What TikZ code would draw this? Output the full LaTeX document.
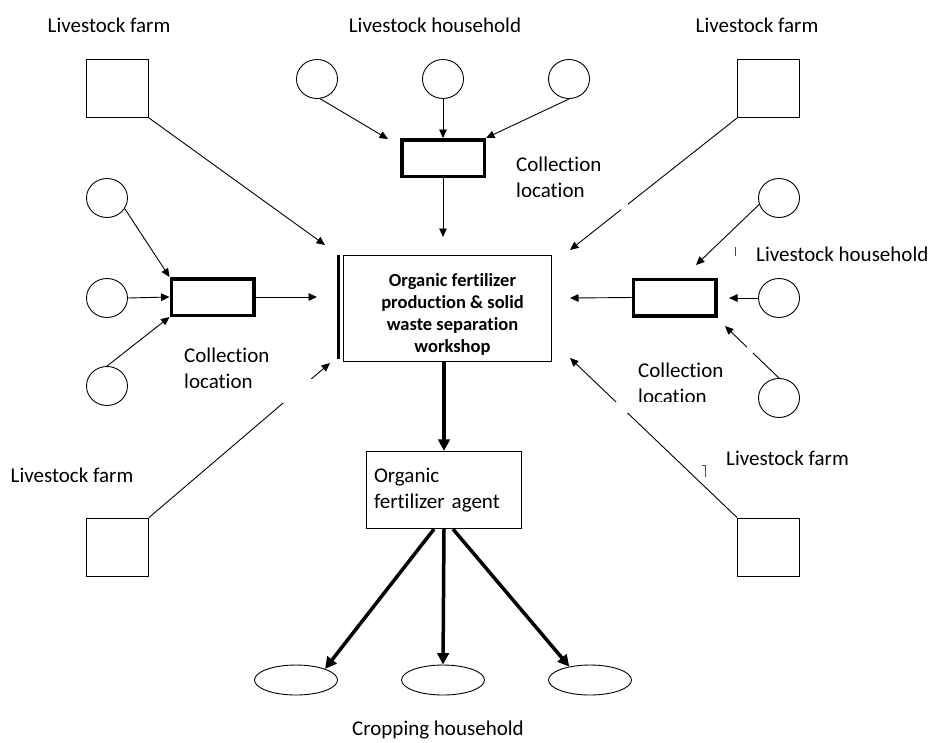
\documentclass[tikz,border=0pt]{standalone}
\usepackage{fontspec}
\setmainfont{Carlito}[Ligatures=NoCommon]
\usetikzlibrary{arrows.meta,shapes.geometric}

\begin{document}
\begin{tikzpicture}[x=1pt,y=-1pt,
  every node/.style={inner sep=0pt},
  lbl/.style={font=\fontsize{21}{25.6}\selectfont, align=left},
  farm/.style={draw, line width=0.9pt, minimum width=62pt, minimum height=58pt},
  hh/.style={draw, ellipse, line width=0.9pt, minimum width=41pt, minimum height=39pt},
  crop/.style={draw, ellipse, line width=0.9pt, minimum width=83pt, minimum height=30pt},
  collect/.style={draw, line width=3.5pt, minimum width=82.5pt, minimum height=36.5pt},
  workshop/.style={draw, line width=1.2pt, minimum width=208pt, minimum height=106pt},
  agentbox/.style={draw, line width=1.2pt, text width=140pt, inner xsep=7.5pt,
    minimum height=77pt, align=left, font=\fontsize{21}{25.6}\selectfont},
  feed/.style={line width=0.9pt, -{Triangle[length=8.5pt,width=7.5pt]}},
  supply/.style={line width=3.5pt, -{Triangle[length=11.5pt,width=11.5pt]}},
  mask/.style={fill=white},
  tick/.style={line width=0.8pt, black!70}
]
\useasboundingbox (0,0) rectangle (933,742);

% ---- livestock farms (squares) ----
\node[farm] (farmTL) at (117.5,88.5) {};
\node[farm] (farmTR) at (768.5,88.5) {};
\node[farm] (farmBL) at (117.5,547) {};
\node[farm] (farmBR) at (768.5,547) {};

% ---- livestock households (circles) ----
\node[hh] (hT1) at (317,79) {};
\node[hh] (hT2) at (443,79) {};
\node[hh] (hT3) at (569,79) {};
\node[hh] (hL1) at (107,198) {};
\node[hh] (hL2) at (107,298) {};
\node[hh] (hL3) at (107,386) {};
\node[hh] (hR1) at (779,198) {};
\node[hh] (hR2) at (779,298) {};
\node[hh] (hR3) at (779,398) {};

% ---- collection locations ----
\node[collect] (colTop)   at (443,158) {};
\node[collect] (colLeft)  at (212.5,297) {};
\node[collect] (colRight) at (674.5,297.5) {};

% ---- workshop ----
\node[workshop] (main) at (447.5,308.5) {};
\draw[line width=3pt] (338.5,255) -- (338.5,359.3);
\node[font=\bfseries\fontsize{18.5}{21.8}\selectfont, align=center] (mainlbl)
  at (452.5,314.3) {Organic fertilizer\\production \& solid\\waste separation\\workshop};

% ---- agent ----
\node[agentbox] (agent) at (444,490) {Organic\\fertilizer agent};

% ---- cropping households ----
\node[crop] (cropL) at (296,680) {};
\node[crop] (cropM) at (443,680) {};
\node[crop] (cropR) at (590,680) {};

% ---- arrow end points in open space ----
\coordinate (inTL)  at (325,245);
\coordinate (inTR)  at (570,250);
\coordinate (inBL)  at (330,363);
\coordinate (inBR)  at (570,358);
\coordinate (inTop) at (443,237);
\coordinate (inL)   at (317,297);
\coordinate (inR)   at (570,298);
\coordinate (toColT) at (388,139);
\coordinate (toColR1) at (696,265);
\coordinate (toColR2) at (729,298);
\coordinate (toColR3) at (725,326);

% ---- flows into the workshop ----
\draw[feed] (farmTL.south east) -- (inTL);
\draw[feed] (farmTR.south west) -- (inTR);
\draw[feed] (farmBL.north east) -- (inBL);
\draw[feed] (farmBR.north west) -- (inBR);
\draw[feed] (colTop.south) -- (inTop);
\draw[feed] (colLeft.east) -- (inL);
\draw[feed] (colRight.west) -- (inR);

% ---- households to collection locations ----
\draw[feed] (hT1.-81) -- (toColT);
\draw[feed] (hT2.south) -- (colTop.north);
\draw[feed] (hT3.south) -- (colTop.north east);
\draw[feed] (hL1.-31) -- (colLeft.north west);
\draw[feed] (hL2.east) -- (colLeft.west);
\draw[feed] (hL3.north) -- (colLeft.south west);
\draw[feed] (hR1.198) -- (toColR1);
\draw[feed] (hR2.west) -- (toColR2);
\draw[feed] (hR3.north) -- (toColR3);

% ---- distribution ----
\draw[supply] (main.south -| agent.north) -- (agent.north);
\draw[supply] ([xshift=-10pt]agent.south) -- (cropL.21);
\draw[supply] (agent.south) -- (cropM.north);
\draw[supply] ([xshift=9pt]agent.south) -- (cropR.147);

% ---- labels ----
\node[lbl, anchor=base] (lFarmTL) at (109,32) {Livestock farm};
\node[lbl, anchor=base] (lHhTop)  at (435,32) {Livestock household};
\node[lbl, anchor=base] (lFarmTR) at (757,32) {Livestock farm};
\node[lbl, anchor=base] (lFarmBL) at (72,482) {Livestock farm};
\node[lbl, anchor=base west] (lFarmBR) at (726,465) {Livestock farm};
\node[lbl, anchor=base west] (lHhR) at (756,261) {Livestock household};
\node[lbl, anchor=west] (lColTop) at (516,177.5) {Collection\\location};
\node[lbl, anchor=west] (lColL)   at (184,368.5) {Collection\\location};
\node[lbl, anchor=west] (lColR)   at (638,383) {Collection\\location};
\node[lbl, anchor=base] (lCrop) at (438,735.5) {Cropping household};

% ---- white text-box backgrounds cutting through the connectors ----
\fill[mask] (283,379) rectangle (312,403);
\fill[mask] (612,402) rectangle (720,413);
\fill[mask] (621,203) rectangle (628,211);
\fill[mask] (747,345) rectangle (753,353);

% ---- stray text-box edge marks ----
\draw[tick] (735,247) -- (735,256);
\draw[tick] (701.7,465.7) -- (705.3,465.7) -- (705.3,476.7);
\end{tikzpicture}
\end{document}
